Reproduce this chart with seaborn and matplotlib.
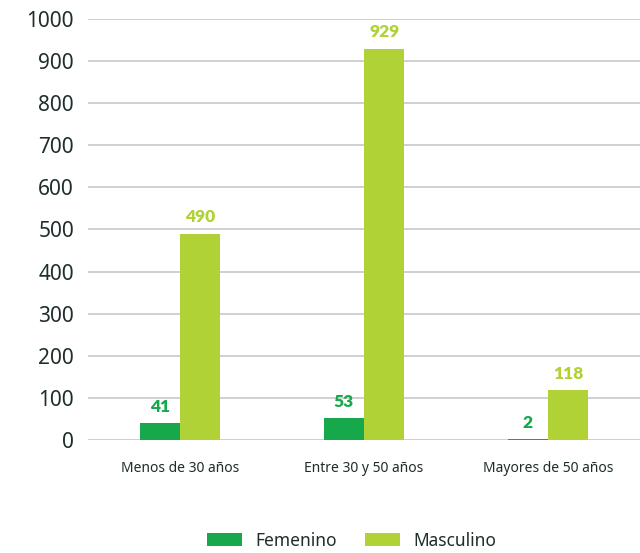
import matplotlib
matplotlib.use("Agg")
import matplotlib.pyplot as plt
import pandas as pd
import seaborn as sns

categories = ["Menos de 30 años", "Entre 30 y 50 años", "Mayores de 50 años"]
femenino = [41, 53, 2]
masculino = [490, 929, 118]
series = ["Femenino", "Masculino"]
colors = ["#17a84b", "#b1d236"]

df = pd.DataFrame({
    "grupo": categories * 2,
    "sexo": [series[0]] * 3 + [series[1]] * 3,
    "valor": femenino + masculino,
})

sns.set_style("white")
plt.rcParams["font.family"] = ["Noto Sans", "DejaVu Sans"]

fig = plt.figure(figsize=(6.4, 5.53), dpi=100)
ax = fig.add_axes([0.1375, 0.204, 0.8625, 0.762])

sns.barplot(data=df, x="grupo", y="valor", hue="sexo", palette=colors,
            width=0.44, saturation=1, linewidth=0, ax=ax, legend=True)

ax.set_ylim(0, 1000)
ax.set_yticks(range(0, 1001, 100))
ax.yaxis.grid(True, color="#c8c8c8", linewidth=1.2)
ax.set_axisbelow(True)
for s in ax.spines.values():
    s.set_visible(False)
ax.set_xlabel("")
ax.set_ylabel("")
ax.tick_params(axis="y", labelsize=15, colors="#1f2d2d", length=0, pad=10)
ax.tick_params(axis="x", labelsize=10, colors="#1f2d2d", length=0, pad=15)

for cont, col in zip(ax.containers, colors):
    ax.bar_label(cont, color=col, fontsize=12.5, fontweight="heavy",
                 family=["Lato", "DejaVu Sans"], padding=6)

handles, labels = ax.get_legend_handles_labels()
ax.legend_.remove()
fig.legend(handles, labels, loc="center", bbox_to_anchor=(0.55, 0.022), ncol=2,
           frameon=False, fontsize=12.5, handlelength=2.0, handleheight=0.8,
           handletextpad=0.8, columnspacing=1.6, labelcolor="#1f2d2d")

fig.savefig("out.png", dpi=100)
